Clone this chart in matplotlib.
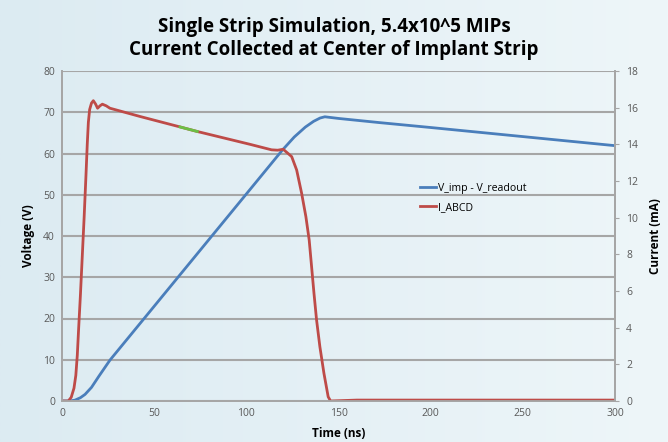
import matplotlib.pyplot as plt
import numpy as np
from matplotlib.colors import LinearSegmentedColormap

plt.rcParams["font.family"] = ["Open Sans", "DejaVu Sans"]

# Voltage difference between implant and readout (V)
t_volt = [0, 4, 7, 10, 12.5, 16, 20, 26, 119.5, 126, 132, 136.5, 140, 142.6,
          150, 172, 200, 250, 300]
v_diff = [0, 0, 0.2, 0.8, 1.6, 3.3, 6.0, 9.9, 60.8, 64.0, 66.4, 67.8, 68.6, 68.9,
          68.5, 67.5, 66.3, 64.1, 61.9]

# Current collected at implant strip centre (mA)
t_curr = [0, 3.4, 5, 6.5, 7.5, 8.3, 9, 10, 11, 12, 13, 13.7, 14.3, 15, 16, 17,
          18.2, 19.3, 20.6, 21.9, 24, 26, 42.3, 64, 73.4, 102, 113.7, 117, 120,
          124.6, 127.3, 130, 132.3, 134.1, 135.4, 136.7, 138.1, 139.9, 142.1,
          144.4, 145.7, 160, 200, 250, 300]
i_abcd = [0, 0, 0.2, 0.7, 1.4, 2.5, 3.9, 5.8, 7.9, 10.0, 12.3, 14.0, 15.2, 15.9,
          16.25, 16.38, 16.2, 15.97, 16.1, 16.19, 16.1, 15.97, 15.52, 14.95, 14.7,
          14.0, 13.7, 13.68, 13.73, 13.33, 12.6, 11.33, 10.06, 8.78, 7.33, 5.87,
          4.42, 2.96, 1.51, 0.23, 0.0, 0.05, 0.05, 0.05, 0.05]

# short stretch of the current trace drawn in green
t_green = [64, 66, 68, 70, 72, 73.4]

fig = plt.figure(figsize=(6.68, 4.42), dpi=100)

# light blue gradient behind everything
bg = fig.add_axes([0, 0, 1, 1], zorder=-10)
grad = np.linspace(0, 1, 256).reshape(1, -1)
cmap = LinearSegmentedColormap.from_list("bg", ["#dcebf2", "#eef6f9"])
bg.imshow(grad, aspect="auto", cmap=cmap, extent=[0, 1, 0, 1])
bg.axis("off")

ax = fig.add_axes([62 / 668, 41 / 442, 553 / 668, 330 / 442])
ax.patch.set_alpha(0)
ax2 = ax.twinx()

grid_c = "#a6a6a6"
ax.set_xlim(0, 300)
ax.set_ylim(0, 80)
ax2.set_ylim(0, 18)
ax.set_xticks(np.arange(0, 301, 50))
ax.set_yticks(np.arange(0, 81, 10))
ax2.set_yticks(np.arange(0, 19, 2))
ax.yaxis.grid(True, color=grid_c, linewidth=1.5)
ax.set_axisbelow(True)

for a in (ax, ax2):
    for s in a.spines.values():
        s.set_color(grid_c)
        s.set_linewidth(1.3)
    a.spines["top"].set_visible(False)
ax.tick_params(axis="both", length=0, labelsize=7.5, labelcolor="#595959", pad=5)
ax2.tick_params(axis="y", length=3, color=grid_c, labelsize=7.5, labelcolor="#595959", pad=5)

lv, = ax.plot(t_volt, v_diff, color="#4a7ebb", lw=2, label="V_imp - V_readout")
li, = ax2.plot(t_curr, i_abcd, color="#be4b48", lw=2, label="I_ABCD")
ax2.plot(t_green, np.interp(t_green, t_curr, i_abcd), color="#6cbf45", lw=2)

ax.set_xlabel("Time (ns)", fontsize=8.5, fontweight="bold", labelpad=6)
ax.set_ylabel("Voltage (V)", fontsize=8.5, fontweight="bold", labelpad=6)
ax2.set_ylabel("Current (mA)", fontsize=8.5, fontweight="bold", labelpad=8)

ax.legend(handles=[lv, li], loc="upper left", bbox_to_anchor=(0.63, 0.69), frameon=False,
          fontsize=7.6, handlelength=1.5, handletextpad=0.2, labelspacing=0.75)

fig.text(0.5, 0.939, "Single Strip Simulation, 5.4x10^5 MIPs", ha="center", va="center",
         fontsize=13.5, fontweight="bold")
fig.text(0.5, 0.886, "Current Collected at Center of Implant Strip", ha="center", va="center",
         fontsize=13.5, fontweight="bold")

fig.savefig("out.png", dpi=100)
